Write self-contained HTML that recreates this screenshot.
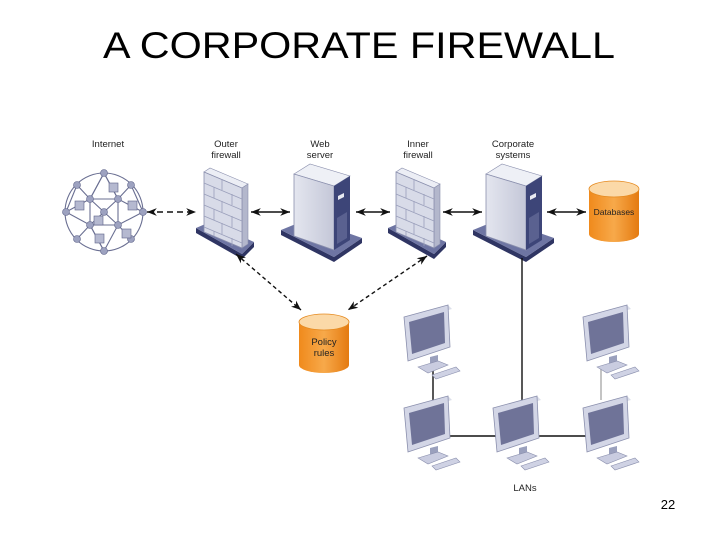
<!DOCTYPE html>
<html><head><meta charset="utf-8"><style>
html,body{margin:0;padding:0;background:#fff;}
svg{display:block}
text{font-family:"Liberation Sans",sans-serif;}
</style></head><body>
<svg width="720" height="540" viewBox="0 0 720 540" xmlns="http://www.w3.org/2000/svg">
<defs>
<marker id="ah" viewBox="0 0 10 10" refX="10" refY="5" markerWidth="7" markerHeight="7" orient="auto-start-reverse"><path d="M0,1 L10,5 L0,9 L3,5 z" fill="#111"/></marker>
<linearGradient id="org" x1="0" x2="1"><stop offset="0" stop-color="#f08a1c"/><stop offset="0.5" stop-color="#f7a94a"/><stop offset="1" stop-color="#e47a10"/></linearGradient>
<linearGradient id="srv" x1="0" x2="1"><stop offset="0" stop-color="#e4e6ef"/><stop offset="1" stop-color="#c4c7d8"/></linearGradient>
<g id="fw">
  <polygon points="-8,56 38,82 50,70 50,75 38,87 -8,61" fill="#2f3563"/>
  <polygon points="-8,56 6,50 50,70 38,82" fill="#6e75a3"/>
  <polygon points="0,0 6,-4 44,12 38,16" fill="#eceef5" stroke="#8a8fad" stroke-width="0.6"/>
  <polygon points="38,16 44,12 44,72 38,76" fill="#b3b7cc" stroke="#8a8fad" stroke-width="0.6"/>
  <polygon points="0,0 38,16 38,76 0,60" fill="#d8dbe8" stroke="#8a8fad" stroke-width="0.8"/>
  <g stroke="#9a9fbb" stroke-width="0.8" fill="none">
    <path d="M0,11 L38,27 M0,22 L38,38 M0,33 L38,49 M0,44 L38,60 M0,55 L38,71"/>
    <path d="M18,7 V18 M10,15 V26 M28,22 V33 M18,29 V40 M10,37 V48 M28,44 V55 M18,51 V62 M10,59 V64 M28,66 V74"/>
  </g>
</g>
<g id="sv">
  <polygon points="-13,68 40,95 68,76 68,81 40,100 -13,73" fill="#2f3563"/>
  <polygon points="-13,68 14,57 68,76 40,95" fill="#6e75a3"/>
  <polygon points="0,12 16,2 56,14 40,24" fill="#eef0f6" stroke="#8a8fad" stroke-width="0.6"/>
  <polygon points="0,12 40,24 40,88 0,74" fill="url(#srv)" stroke="#8a8fad" stroke-width="0.8"/>
  <polygon points="40,24 56,14 56,78 40,88" fill="#3d4578"/>
  <polygon points="44,34 50,31 50,35 44,38" fill="#e8eaf2"/>
  <polygon points="43,56 53,50 53,76 43,82" fill="#5a6190"/>
</g>
<g id="mon">
  <polygon points="26,52 34,50 34,60 26,62" fill="#9aa0bd"/>
  <polygon points="14,62 34,56 44,60 24,68" fill="#c9cce0" stroke="#8a8fad" stroke-width="0.6"/>
  <polygon points="0,12 44,0 48,4 4,16" fill="#dcdfea"/>
  <polygon points="0,12 44,0 46,42 4,56" fill="#d3d6e6" stroke="#8a8fad" stroke-width="0.8"/>
  <polygon points="5,17 40,7 41,38 8,49" fill="#6f7398"/>
  <polygon points="28,70 52,62 56,66 32,74" fill="#cfd2e4" stroke="#8a8fad" stroke-width="0.6"/>
</g>
</defs>

<text x="359" y="58" font-size="37" text-anchor="middle" textLength="512" lengthAdjust="spacingAndGlyphs" fill="#000">A CORPORATE FIREWALL</text>

<g font-size="9.5" fill="#222" text-anchor="middle">
<text x="108" y="147">Internet</text>
<text x="226" y="147">Outer</text><text x="226" y="158">firewall</text>
<text x="320" y="147">Web</text><text x="320" y="158">server</text>
<text x="418" y="147">Inner</text><text x="418" y="158">firewall</text>
<text x="513" y="147">Corporate</text><text x="513" y="158">systems</text>
<text x="525" y="491">LANs</text>
</g>
<text x="668" y="509" font-size="13" text-anchor="middle" fill="#000">22</text>

<g stroke="#6a6f92" stroke-width="1.1" fill="none">
<circle cx="104" cy="212" r="39"/>
<path d="M104,173 L90,199 L66,212 L90,225 L104,251 L118,225 L143,212 L118,199 Z"/>
<path d="M77,185 L90,199 M131,185 L118,199 M77,239 L90,225 M131,239 L118,225"/>
<path d="M104,173 L118,199 M104,173 L90,199 M66,212 L77,185 M143,212 L131,185 M90,199 H118 V225 H90 Z M90,199 L104,212 L118,199 M90,225 L104,212 L118,225 M104,251 L90,225"/>
</g>
<g fill="#9da2c0" stroke="#5d6288" stroke-width="0.6">
<circle cx="104" cy="173" r="3.5"/><circle cx="66" cy="212" r="3.5"/><circle cx="143" cy="212" r="3.5"/><circle cx="104" cy="251" r="3.5"/>
<circle cx="77" cy="185" r="3.5"/><circle cx="131" cy="185" r="3.5"/><circle cx="77" cy="239" r="3.5"/><circle cx="131" cy="239" r="3.5"/>
<circle cx="90" cy="199" r="3.5"/><circle cx="118" cy="199" r="3.5"/><circle cx="90" cy="225" r="3.5"/><circle cx="118" cy="225" r="3.5"/><circle cx="104" cy="212" r="3.5"/>
</g>
<g fill="#b5b9d0" stroke="#5d6288" stroke-width="0.6">
<rect x="109" y="183" width="9" height="9"/><rect x="75" y="201" width="9" height="9"/><rect x="128" y="201" width="9" height="9"/>
<rect x="94" y="216" width="9" height="9"/><rect x="95" y="234" width="9" height="9"/><rect x="122" y="229" width="9" height="9"/>
</g>

<use href="#fw" x="204" y="172"/>
<use href="#fw" x="396" y="172"/>
<use href="#sv" x="294" y="162"/>
<use href="#sv" x="486" y="162"/>

<g>
<path d="M589,189 V234 A25,8 0 0 0 639,234 V189 Z" fill="url(#org)"/>
<ellipse cx="614" cy="189" rx="25" ry="8" fill="#fbd9a8" stroke="#e58a20" stroke-width="0.8"/>
<text x="614" y="215" font-size="8.5" text-anchor="middle" fill="#222">Databases</text>
<path d="M299,322 V365 A25,8 0 0 0 349,365 V322 Z" fill="url(#org)"/>
<ellipse cx="324" cy="322" rx="25" ry="8" fill="#fbd9a8" stroke="#e58a20" stroke-width="0.8"/>
<text x="324" y="345" font-size="9.5" text-anchor="middle" fill="#222">Policy</text>
<text x="324" y="356" font-size="9.5" text-anchor="middle" fill="#222">rules</text>
</g>

<g stroke="#111" stroke-width="1.4" fill="none">
<line x1="147" y1="212" x2="196" y2="212" stroke-dasharray="6,4" marker-start="url(#ah)" marker-end="url(#ah)"/>
<line x1="251" y1="212" x2="290" y2="212" marker-start="url(#ah)" marker-end="url(#ah)"/>
<line x1="356" y1="212" x2="390" y2="212" marker-start="url(#ah)" marker-end="url(#ah)"/>
<line x1="443" y1="212" x2="482" y2="212" marker-start="url(#ah)" marker-end="url(#ah)"/>
<line x1="547" y1="212" x2="586" y2="212" marker-start="url(#ah)" marker-end="url(#ah)"/>
<line x1="236" y1="254" x2="301" y2="310" stroke-dasharray="4,3" marker-start="url(#ah)" marker-end="url(#ah)"/>
<line x1="427" y1="256" x2="348" y2="310" stroke-dasharray="4,3" marker-start="url(#ah)" marker-end="url(#ah)"/>
<line x1="522" y1="258" x2="522" y2="400"/>
<line x1="433" y1="436" x2="600" y2="436"/>
<line x1="433" y1="368" x2="433" y2="400"/>
</g>
<line x1="601" y1="368" x2="601" y2="400" stroke="#aaa" stroke-width="1.4"/>

<use href="#mon" x="404" y="305"/>
<use href="#mon" x="583" y="305"/>
<use href="#mon" x="404" y="396"/>
<use href="#mon" x="493" y="396"/>
<use href="#mon" x="583" y="396"/>
</svg>
</body></html>
